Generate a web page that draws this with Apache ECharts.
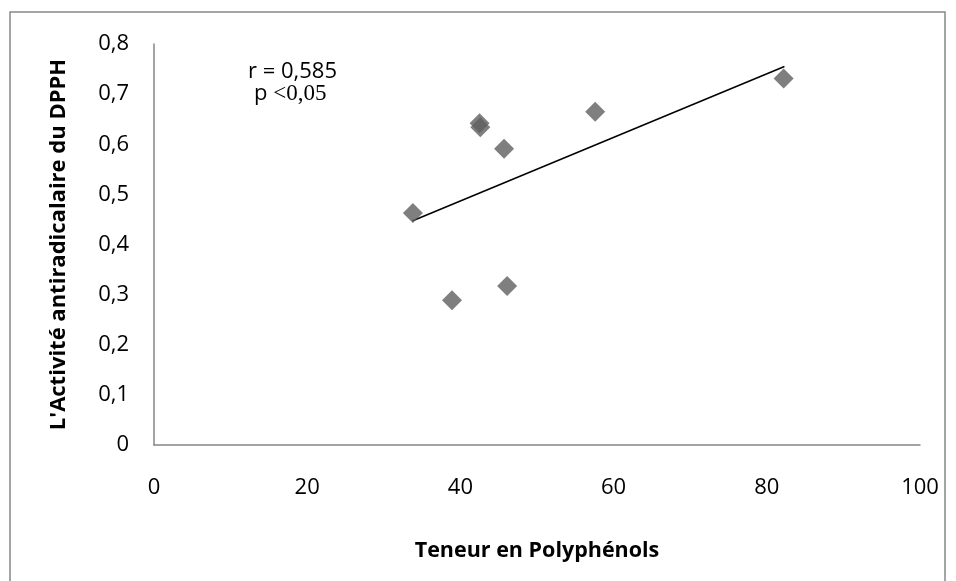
<!DOCTYPE html>
<html><head><meta charset="utf-8">
<script src="https://cdn.jsdelivr.net/npm/echarts@6/dist/echarts.min.js"></script>
<style>html,body{margin:0;padding:0;background:#fff}#c{width:956px;height:581px}</style>
</head><body><div id="c"></div>
<script>
const polyphenols = [33.8, 38.9, 42.5, 42.6, 45.7, 46.1, 57.6, 82.2];
const dpph = [0.463, 0.289, 0.642, 0.634, 0.591, 0.317, 0.665, 0.731];
const trendX = [33.7, 82.3];
const trendY = [0.447, 0.755];
const xTicks = [0, 20, 40, 60, 80, 100];
const yTicks = [0, 0.1, 0.2, 0.3, 0.4, 0.5, 0.6, 0.7, 0.8];

const font = '"Open Sans", "Noto Sans", sans-serif';
const chart = echarts.init(document.getElementById('c'));
chart.setOption({
  animation: false,
  backgroundColor: '#fff',
  grid: {left: 154, right: 36, top: 44, bottom: 136},
  graphic: [
    {type: 'rect', shape: {x: 10, y: 12, width: 935, height: 580}, style: {fill: 'none', stroke: '#888', lineWidth: 1.5}, silent: true},
    {type: 'text', left: 248, top: 61, style: {text: 'r = 0,585', font: '22px ' + font, fill: '#000'}},
    {type: 'text', left: 254, top: 82, style: {rich: {a: {font: '22px ' + font, fill: '#000'}, b: {font: '23px "Liberation Serif", "DejaVu Serif", serif', fill: '#000'}}, text: '{a|p }{b|<0,05}'}}
  ],
  xAxis: {
    type: 'value', min: 0, max: 100, interval: 20,
    name: 'Teneur en Polyphénols', nameLocation: 'middle', nameGap: 95,
    nameTextStyle: {fontFamily: font, fontSize: 21.5, fontWeight: 'bold', color: '#000'},
    axisLine: {show: true, onZero: false, lineStyle: {color: '#868686', width: 1.5}},
    axisTick: {show: false},
    splitLine: {show: false},
    axisLabel: {margin: 32, fontFamily: font, fontSize: 22, color: '#000',
      formatter: v => xTicks.includes(v) ? String(v) : ''}
  },
  yAxis: {
    type: 'value', min: 0, max: 0.8, interval: 0.1,
    name: "L'Activité antiradicalaire du DPPH", nameLocation: 'middle', nameGap: 84,
    nameTextStyle: {fontFamily: font, fontSize: 22, fontWeight: 'bold', color: '#000'},
    axisLine: {show: true, onZero: false, lineStyle: {color: '#868686', width: 1.5}},
    axisTick: {show: false},
    splitLine: {show: false},
    axisLabel: {margin: 25, fontFamily: font, fontSize: 22, color: '#000',
      formatter: v => { const t = yTicks.find(k => Math.abs(k - v) < 1e-6); return t === undefined ? '' : (t === 0 ? '0' : t.toFixed(1).replace('.', ',')); }}
  },
  series: [
    {type: 'line', data: trendX.map((x, i) => [x, trendY[i]]), symbol: 'none', lineStyle: {color: '#000', width: 1.5}, z: 2},
    {type: 'scatter', data: polyphenols.map((x, i) => [x, dpph[i]]), symbol: 'diamond', symbolSize: 20, itemStyle: {color: '#5f5f5f'}, z: 3}
  ]
});
</script></body></html>
